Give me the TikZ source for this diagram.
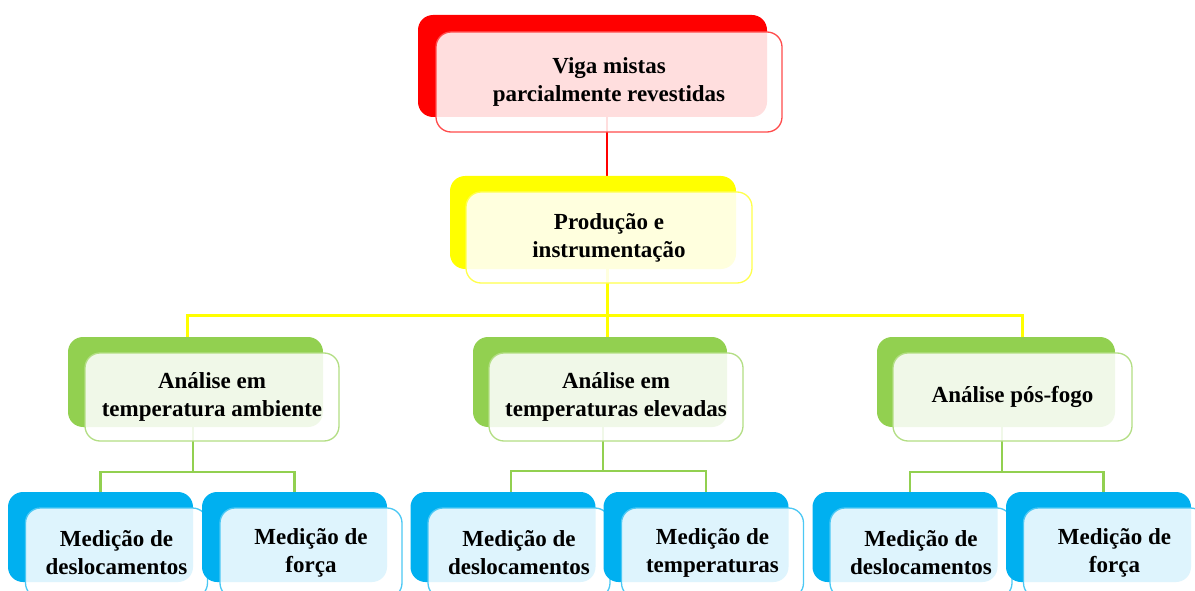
\documentclass[tikz,border=0pt]{standalone}
\usepackage{fontspec}
\setmainfont{Liberation Serif}
\pgfdeclarelayer{bg}
\pgfsetlayers{bg,main}
\definecolor{rback}{HTML}{FF0000}
\definecolor{yback}{HTML}{FFFF00}
\definecolor{gback}{HTML}{92D050}
\definecolor{bback}{HTML}{00B0F0}
\tikzset{
  backbox/.style={rectangle, rounded corners=15pt, inner sep=0pt, fill=#1},
  frontbox/.style={rectangle, rounded corners=15pt, inner sep=0pt, fill=white,
    fill opacity=0.87, text opacity=1, draw=#1!70!white, line width=1.3pt,
    align=center, font=\bfseries\fontsize{23}{28}\selectfont},
  rline/.style={draw=rback, line width=2.5pt},
  yline/.style={draw=yback, line width=3pt},
  gline/.style={draw=gback, line width=2.5pt},
}
\begin{document}
\begin{tikzpicture}[x=1pt,y=-1pt]
\useasboundingbox (0,0) rectangle (1195,591);
% top
\node[backbox=rback, minimum width=349pt, minimum height=102pt] (tb) at (592.5,66) {};
\node[frontbox=rback, minimum width=346pt, minimum height=100pt] (tf) at (609,82) {Viga mistas\\parcialmente revestidas};
% yellow
\node[backbox=yback, minimum width=286pt, minimum height=93pt] (yb) at (593,222.5) {};
\node[frontbox=yback, minimum width=286pt, minimum height=91pt] (yf) at (609,237.5) {Produção e\\instrumentação};
% green
\node[backbox=gback, minimum width=255pt, minimum height=90pt] (g1b) at (195.5,382) {};
\node[frontbox=gback, minimum width=254pt, minimum height=88pt] (g1f) at (212,397) {Análise em\\temperatura ambiente};
\node[backbox=gback, minimum width=254pt, minimum height=90pt] (g2b) at (600,382) {};
\node[frontbox=gback, minimum width=254pt, minimum height=88pt] (g2f) at (616,397) {Análise em\\temperaturas elevadas};
\node[backbox=gback, minimum width=238pt, minimum height=90pt] (g3b) at (996,382) {};
\node[frontbox=gback, minimum width=239pt, minimum height=88pt] (g3f) at (1012.5,397) {Análise pós-fogo};
% blue
\foreach \n/\bx/\fx/\t in {b1/100.5/116.5/{Medição de\\deslocamentos},
                           b2/294.5/311/{Medição de\\força},
                           b3/503/519/{Medição de\\deslocamentos},
                           b4/696/712.5/{Medição de\\temperaturas},
                           b5/905/921/{Medição de\\deslocamentos},
                           b6/1098.5/1114.5/{Medição de\\força}}{
  \node[backbox=bback, minimum width=185pt, minimum height=90pt] (\n b) at (\bx,537) {};
  \node[frontbox=bback, minimum width=182pt, minimum height=90pt] (\n f) at (\fx,553) {\t};
}
% connectors
\coordinate (ybus) at (607,315);
\coordinate (gbus1) at (193,472);
\coordinate (gbus2) at (603,471);
\coordinate (gbus3) at (1002,472);
\begin{pgfonlayer}{bg}
\fill[white] (0,0) rectangle (1195,591);
\draw[rline] ([xshift=-2pt]tf.center) -- ([xshift=-2pt]tf.center |- yb.north);
\draw[yline] (ybus |- yf.center) -- (ybus);
\draw[yline] (ybus) -| ([xshift=-8pt]g1b.north);
\draw[yline] (ybus) -| ([xshift=26pt]g3b.north);
\draw[yline] (ybus) -- (ybus |- g2b.north);
\draw[gline] (gbus1 |- g1f.center) -- (gbus1);
\draw[gline] (gbus1) -| (b1b.north);
\draw[gline] (gbus1) -| (b2b.north);
\draw[gline] (gbus2 |- g2f.center) -- (gbus2);
\draw[gline] (gbus2) -| ([xshift=8pt]b3b.north);
\draw[gline] (gbus2) -| ([xshift=10pt]b4b.north);
\draw[gline] (gbus3 |- g3f.center) -- (gbus3);
\draw[gline] (gbus3) -| ([xshift=5pt]b5b.north);
\draw[gline] (gbus3) -| ([xshift=5pt]b6b.north);
\end{pgfonlayer}
\end{tikzpicture}
\end{document}
